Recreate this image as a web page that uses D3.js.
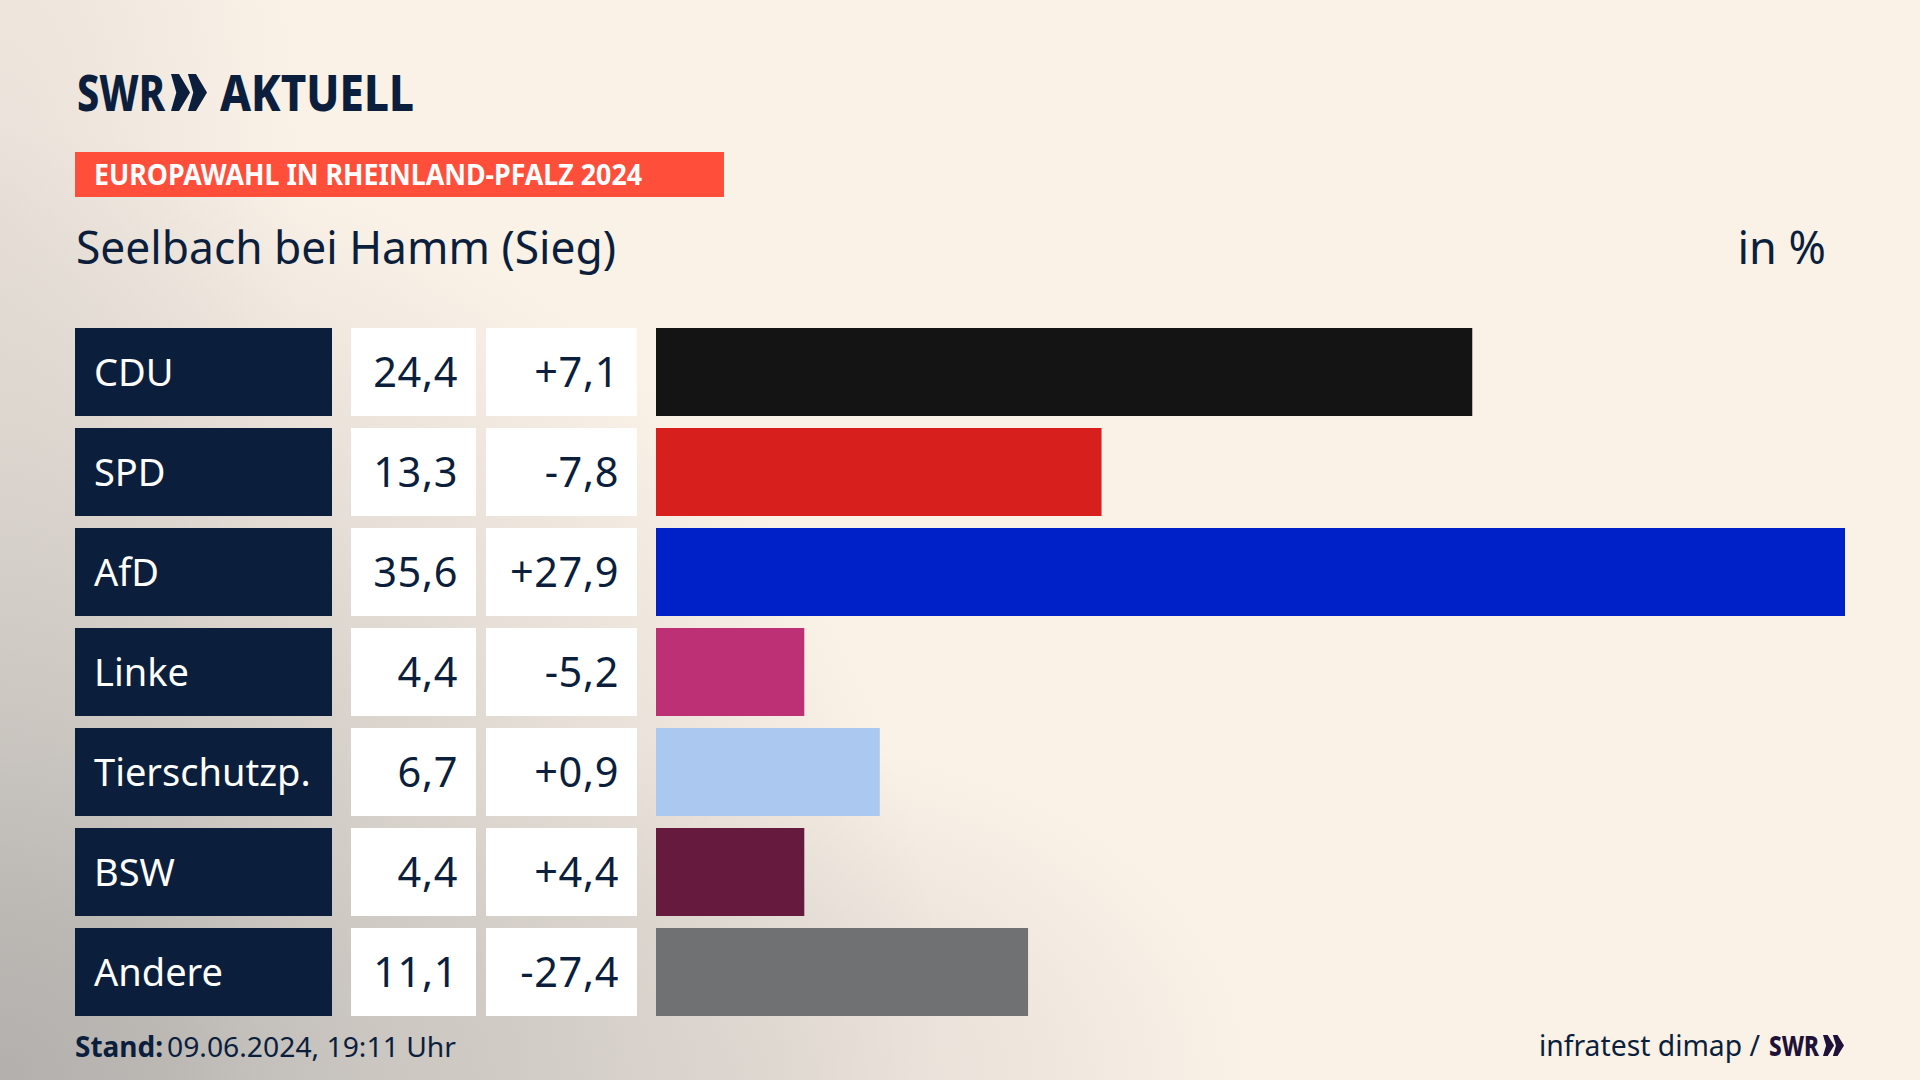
<!DOCTYPE html>
<html><head><meta charset="utf-8">
<script src="https://cdn.jsdelivr.net/npm/d3@7/dist/d3.min.js"></script>
<style>html,body{margin:0;padding:0;background:#faf1e7;overflow:hidden}svg{display:block}text{font-family:"Noto Sans",sans-serif}</style>
</head><body>
<script>
const parties = ["CDU","SPD","AfD","Linke","Tierschutzp.","BSW","Andere"];
const shares = [24.44,13.34,35.6,4.44,6.7,4.44,11.14];
const changes = [7.1,-7.8,27.9,-5.2,0.9,4.4,-27.4];
const barColors = ["#141414","#d71f1d","#0021c8","#bd3075","#abc8f0","#661a3e","#707173"];
const navy = "#0b1f3d";
const fmt = v => v.toFixed(1).replace(".",",");
const fmtChange = v => (v>0?"+":"")+fmt(v);

const svg = d3.select("body").append("svg").attr("width",1920).attr("height",1080).attr("viewBox","0 0 1920 1080");
const defs = svg.append("defs");
function wash(id,cx,cy,rx,ry,stops){
  const g = defs.append("radialGradient").attr("id",id).attr("cx",0).attr("cy",0).attr("r",1)
    .attr("gradientUnits","userSpaceOnUse").attr("gradientTransform",`translate(${cx},${cy}) scale(${rx},${ry})`);
  stops.forEach(s=>g.append("stop").attr("offset",s[0]).attr("stop-color","#8a8b8c").attr("stop-opacity",s[1]));
  svg.append("rect").attr("width",1920).attr("height",1080).attr("fill",`url(#${id})`);
}
svg.append("rect").attr("width",1920).attr("height",1080).attr("fill","#faf1e7");
wash("core",0,1080,950,950,[[0,.64],[.19,.55],[.4,.38],[.69,.18],[1,0]]);
wash("left",0,200,300,700,[[0,.15],[1,0]]);
wash("bottom",750,1080,500,340,[[0,.16],[.5,.12],[1,0]]);

function put(x,y,str,size,weight,fill,anchor,width){
  const t = svg.append("text").attr("x",x).attr("y",y).attr("font-size",size).attr("font-weight",weight).attr("fill",fill).attr("text-anchor",anchor||"start").text(str);
  if(width){t.attr("textLength",width).attr("lengthAdjust","spacingAndGlyphs");}
  return t;
}
function chevrons(x,y,w,h,fill){
  const cw = w*0.53, step = w-cw, arm = cw*0.42, notch = cw*0.28;
  [0,step].forEach(dx=>{
    const p = d3.path();
    p.moveTo(x+dx,y); p.lineTo(x+dx+arm,y); p.lineTo(x+dx+cw,y+h/2); p.lineTo(x+dx+arm,y+h); p.lineTo(x+dx,y+h); p.lineTo(x+dx+notch,y+h/2); p.closePath();
    svg.append("path").attr("d",p.toString()).attr("fill",fill);
  });
}
// logo
put(77,111,"SWR",50,800,navy,"start",88);
chevrons(171,74,36,37,navy);
put(220,111,"AKTUELL",50,800,navy,"start",194);
// banner
svg.append("rect").attr("x",75).attr("y",152).attr("width",649).attr("height",45).attr("fill","#ff4f3b");
put(94,185,"EUROPAWAHL IN RHEINLAND-PFALZ 2024",28,700,"#fff","start",548);
// title
put(76,264,"Seelbach bei Hamm (Sieg)",45,400,navy,"start",540);
put(1826,264,"in %",45,400,navy,"end");

const y = d3.scaleBand().domain(parties).range([328,1016]).paddingInner(0.12);
const x = d3.scaleLinear().domain([0,d3.max(shares)]).range([656,1845]);
const rows = parties.map((p,i)=>({p,share:shares[i],change:changes[i],color:barColors[i]}));
const g = svg.append("g").selectAll("g").data(rows).join("g");
g.append("rect").attr("x",75).attr("y",d=>y(d.p)).attr("width",257).attr("height",y.bandwidth()).attr("fill",navy);
g.append("rect").attr("x",351).attr("y",d=>y(d.p)).attr("width",125).attr("height",y.bandwidth()).attr("fill","#fff");
g.append("rect").attr("x",486).attr("y",d=>y(d.p)).attr("width",151).attr("height",y.bandwidth()).attr("fill","#fff");
g.append("rect").attr("x",x(0)).attr("y",d=>y(d.p)).attr("width",d=>x(d.share)-x(0)).attr("height",y.bandwidth()).attr("fill",d=>d.color);
const base = d=>y(d.p)+y.bandwidth()/2+14;
g.append("text").attr("x",94).attr("y",base).attr("font-size",38).attr("fill","#fff").text(d=>d.p);
g.append("text").attr("x",458).attr("y",d=>base(d)+1).attr("font-size",41.5).attr("letter-spacing",0.6).attr("fill",navy).attr("text-anchor","end").text(d=>fmt(d.share));
g.append("text").attr("x",619).attr("y",d=>base(d)+1).attr("font-size",41.5).attr("letter-spacing",0.6).attr("fill",navy).attr("text-anchor","end").text(d=>fmtChange(d.change));

// footer
put(75,1057,"Stand:",28,700,navy,"start",88);
put(167,1057,"09.06.2024, 19:11 Uhr",28,400,navy,"start",289);
put(1539,1056,"infratest dimap /",29,400,navy,"start",221);
put(1769,1056,"SWR",29,800,"#1f1238","start",50);
chevrons(1823,1035,21,21,"#1f1238");
</script>
</body></html>
